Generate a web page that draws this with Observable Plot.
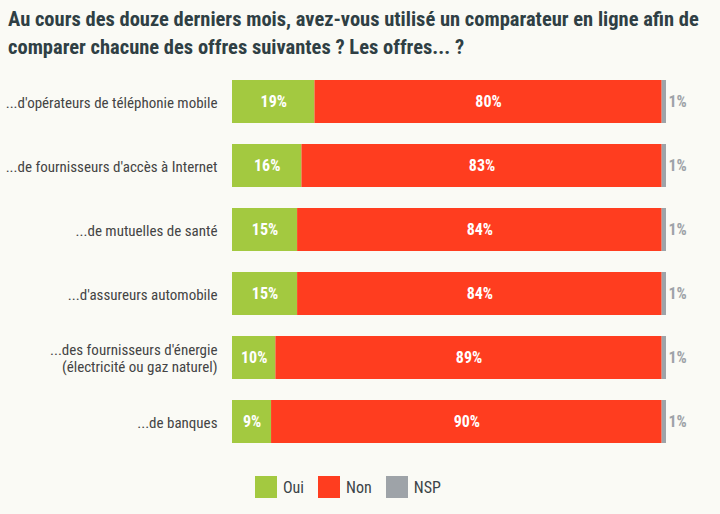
<!DOCTYPE html>
<html>
<head>
<meta charset="utf-8">
<script src="https://cdn.jsdelivr.net/npm/d3@7"></script>
<script src="https://cdn.jsdelivr.net/npm/@observablehq/plot@0.6"></script>
<style>
  html, body { margin: 0; padding: 0; background: #fafaf5; }
  body { width: 720px; height: 514px; overflow: hidden; font-family: "Liberation Sans Narrow", "Roboto Condensed", "Roboto", sans-serif; }
  #title { position: absolute; left: 8px; top: 5px; font-size: 20.5px; font-weight: bold; color: #2f3f44; line-height: 28px; }
  #chart { position: absolute; left: 0; top: 68px; }
  #legend { position: absolute; left: 255px; top: 476px; display: flex; align-items: center; font-size: 16px; color: #3c4448; }
  #legend .sw { width: 22px; height: 22px; margin-right: 6px; }
  #legend .it { display: flex; align-items: center; margin-right: 14px; }
</style>
</head>
<body>
<div id="title">Au cours des douze derniers mois, avez-vous utilisé un comparateur en ligne afin de<br>comparer chacune des offres suivantes ? Les offres... ?</div>
<div id="chart"></div>
<div id="legend"></div>
<script>
const categories = [
  "...d'opérateurs de téléphonie mobile",
  "...de fournisseurs d'accès à Internet",
  "...de mutuelles de santé",
  "...d'assureurs automobile",
  "...des fournisseurs d'énergie\n(électricité ou gaz naturel)",
  "...de banques"
];
const oui = [19, 16, 15, 15, 10, 9];
const non = [80, 83, 84, 84, 89, 90];
const nsp = [1, 1, 1, 1, 1, 1];
const seriesNames = ["Oui", "Non", "NSP"];
const seriesColors = ["#a3c940", "#ff3d1f", "#9ea3a8"];

const rows = [];
categories.forEach((c, i) => {
  rows.push({cat: c, serie: "Oui", value: oui[i]});
  rows.push({cat: c, serie: "Non", value: non[i]});
  rows.push({cat: c, serie: "NSP", value: nsp[i]});
});

const font = '"Liberation Sans Narrow", "Roboto Condensed", "Roboto", sans-serif';

const chart = Plot.plot({
  width: 720,
  height: 388,
  marginLeft: 232,
  marginRight: 54,
  marginTop: 10,
  marginBottom: 10,
  style: {background: "transparent", fontFamily: font},
  x: {domain: [0, 100], axis: null},
  y: {domain: categories, paddingInner: 0.323, paddingOuter: 0, label: null},
  color: {domain: seriesNames, range: seriesColors},
  marks: [
    Plot.barX(rows, Plot.stackX({x: "value", y: "cat", fill: "serie", order: seriesNames})),
    Plot.text(rows.filter(d => d.serie !== "NSP"), Plot.stackX({
      x: "value", y: "cat", z: "serie", order: seriesNames,
      text: d => d.value + "%", fill: "white", fontWeight: "bold", fontSize: 16
    })),
    Plot.text(rows.filter(d => d.serie === "NSP"), {
      x: 100, y: "cat", text: d => d.value + "%", dx: 2, textAnchor: "start",
      fill: "#9ea3a8", fontWeight: "bold", fontSize: 16
    }),
    Plot.axisY({tickSize: 0, tickPadding: 15, fontSize: 15, color: "#444", label: null, lineHeight: 1.15})
  ]
});
document.getElementById("chart").appendChild(chart);

const leg = document.getElementById("legend");
seriesNames.forEach((n, i) => {
  const it = document.createElement("div");
  it.className = "it";
  const sw = document.createElement("div");
  sw.className = "sw";
  sw.style.background = seriesColors[i];
  const t = document.createElement("span");
  t.textContent = n;
  it.appendChild(sw); it.appendChild(t);
  leg.appendChild(it);
});
</script>
</body>
</html>
